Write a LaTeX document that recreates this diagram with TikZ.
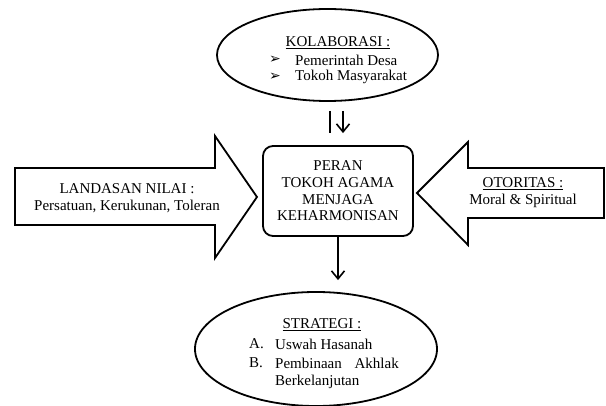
\documentclass[tikz,border=0pt]{standalone}
\usepackage{fontspec}
\setmainfont{Liberation Serif}
\newfontfamily\symfont{DejaVu Sans}
\usetikzlibrary{shapes.geometric,arrows.meta}

\tikzset{
  outline/.style={line width=1.8pt, black},
  link/.style={line width=1.8pt, black},
  linkarrow/.style={link, -{Straight Barb[length=8pt,width=13pt,line width=1.6pt]}},
  txt/.style={inner sep=0pt, align=center, font=\fontsize{15}{16.7}\selectfont},
  bullet/.style={inner sep=0pt, font=\symfont\fontsize{14}{14}\selectfont},
  oval/.style={outline, draw, ellipse, inner sep=0pt},
  rolebox/.style={outline, draw, rounded corners=10pt, inner sep=0pt,
    minimum width=150pt, minimum height=90pt}
}

\begin{document}
\begin{tikzpicture}[x=1pt,y=-1pt]
  \useasboundingbox (0,0) rectangle (606,406);

  % main box and the two ovals
  \node[rolebox] (peran) at (338,191) {};
  \node[txt] (perantext) at (338,191) {PERAN\\TOKOH AGAMA\\MENJAGA\\KEHARMONISAN};
  \node[oval, minimum width=221pt, minimum height=92pt] (kolab) at (327.5,55) {};
  \node[oval, minimum width=242pt, minimum height=114pt] (strat) at (316,349) {};

  % block arrows left and right
  \draw[outline, line join=miter] (15,168) -- (215,168) -- (215,136) -- (257,197)
    -- (215,258) -- (215,225) -- (15,225) -- cycle;
  \draw[outline, line join=miter] (604,168) -- (468,168) -- (468,142) -- (417,193)
    -- (468,245) -- (468,218) -- (604,218) -- cycle;
  \node[txt] (landasan) at (127,198.5) {LANDASAN NILAI :\\Persatuan, Kerukunan, Toleran};
  \node[txt] (otoritas) at (523,192.5) {\underline{OTORITAS :}\\Moral \& Spiritual};

  % collaboration text
  \node[txt] (kolabhead) at (338,43) {\underline{KOLABORASI :}};
  \node[bullet] (bulleta) at (275,60) {➢};
  \node[txt, anchor=west] (pemdes) at (295,60) {Pemerintah Desa};
  \node[bullet] (bulletb) at (275,77) {➢};
  \node[txt, anchor=west] (tokmas) at (295,77) {Tokoh Masyarakat};

  % strategy text
  \node[txt] (strathead) at (322,325) {\underline{STRATEGI :}};
  \node[txt, anchor=west] (itema) at (249,344) {A.};
  \node[txt, anchor=west] (uswah) at (275,344) {Uswah Hasanah};
  \node[txt, anchor=west] (itemb) at (249,363) {B.};
  \node[txt, anchor=west] (pembinaan) at (275,363) {Pembinaan};
  \node[txt, anchor=east] (akhlak) at (399,363) {Akhlak};
  \node[txt, anchor=west] (lanjut) at (275,382) {Berkelanjutan};

  % connectors
  \coordinate (inleft) at ([xshift=-8pt]peran.north);
  \coordinate (inright) at ([xshift=5pt]peran.north);
  \draw[link, shorten <=9pt, shorten >=12pt] (inleft |- kolab.south) -- (inleft);
  \draw[linkarrow, shorten <=9pt, shorten >=12pt] (inright |- kolab.south) -- (inright);
  \draw[linkarrow, shorten >=11pt] (peran.south) -- (peran.south |- strat.north);
\end{tikzpicture}
\end{document}
